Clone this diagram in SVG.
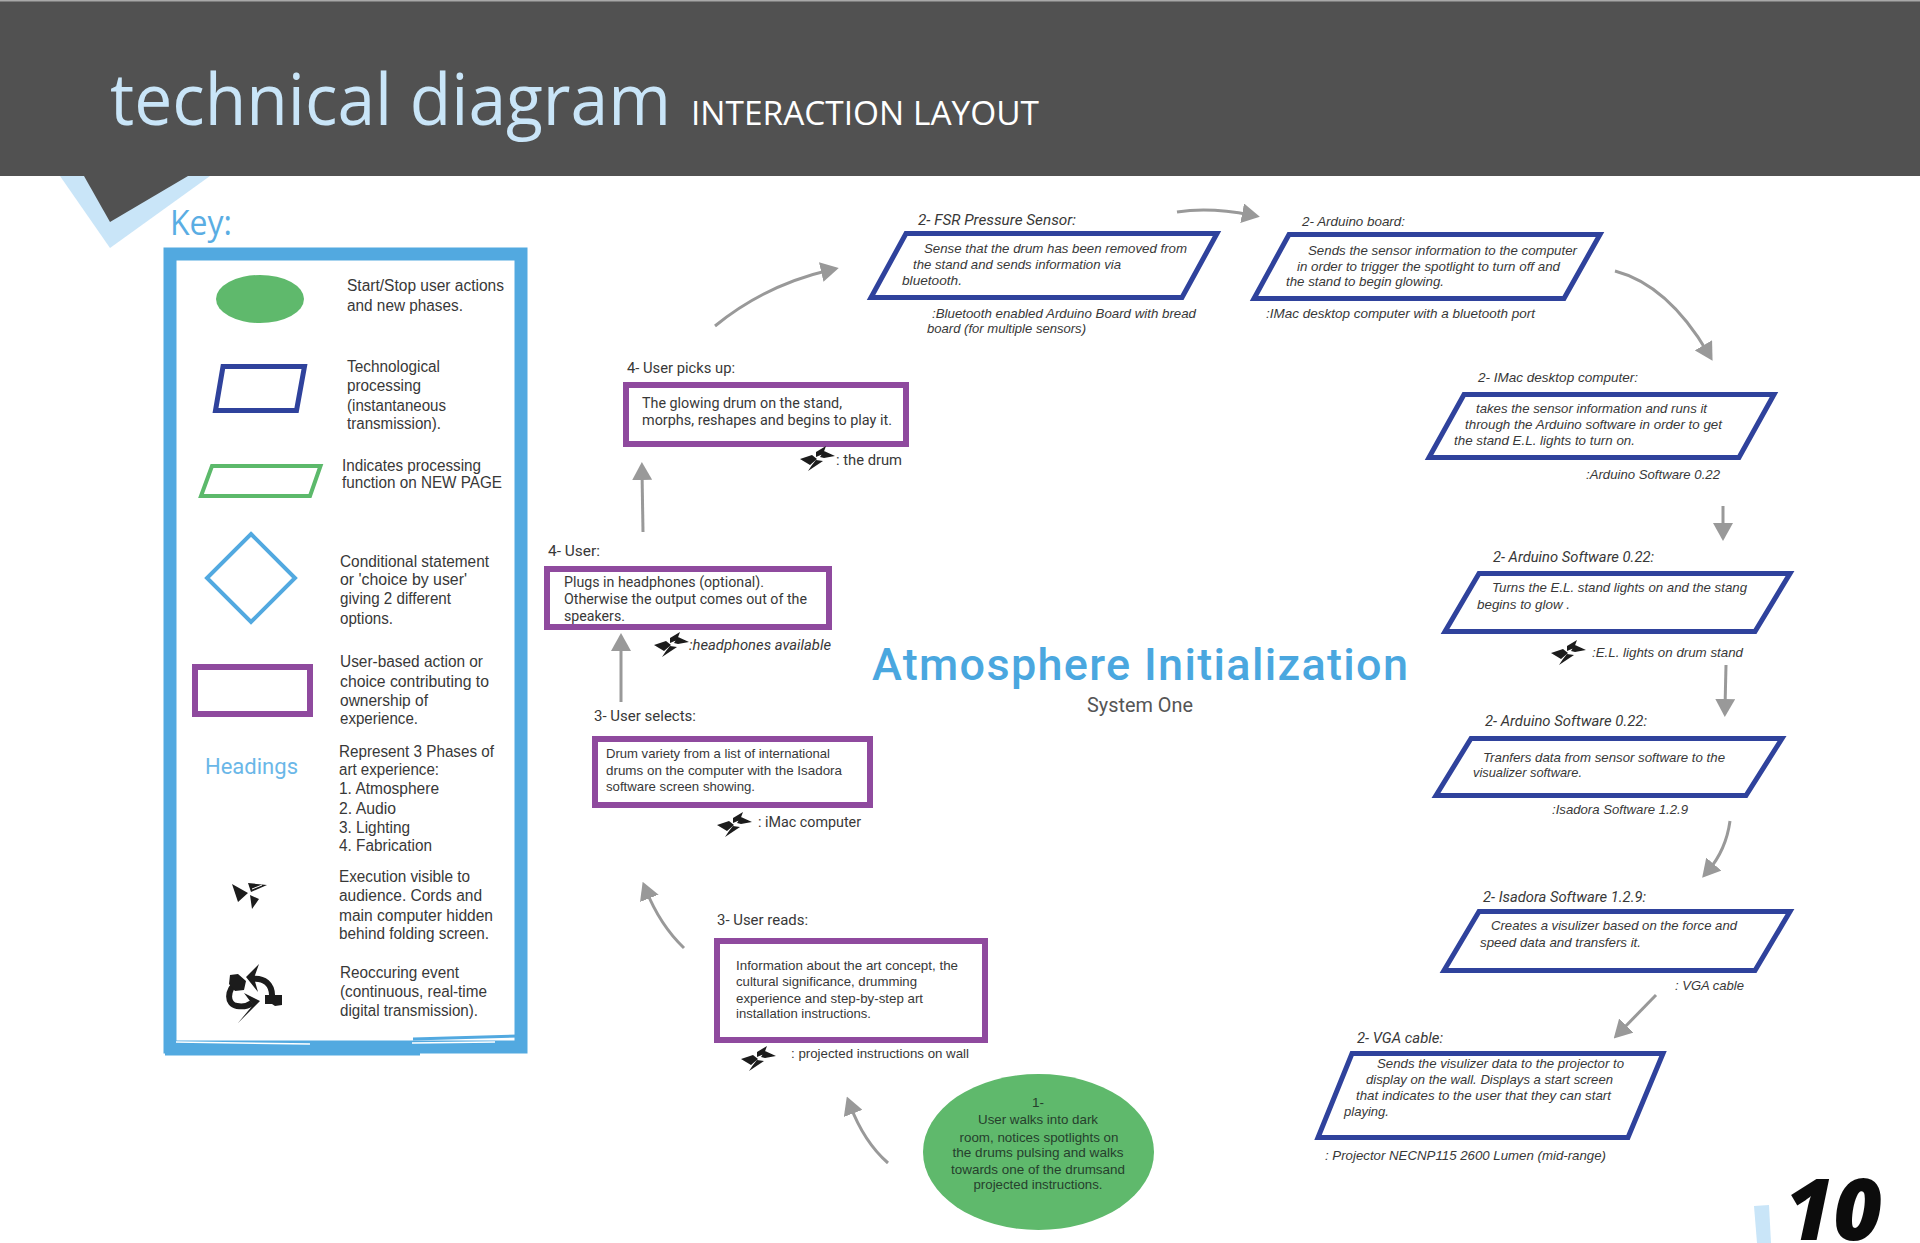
<svg xmlns="http://www.w3.org/2000/svg" xmlns:xlink="http://www.w3.org/1999/xlink" width="1920" height="1243" viewBox="0 0 1920 1243">
<style>
text{font-family:"Liberation Sans",Arial,sans-serif;fill:#383838}
.k{font-size:16px}
.p{font-size:13.5px;font-style:italic}
.a{font-size:13.5px}
.e{font-size:13.5px;text-anchor:middle;fill:#26402c}
.d{font-family:Roboto,"Liberation Sans",sans-serif;font-size:14.5px}
.di{font-family:Roboto,"Liberation Sans",sans-serif;font-size:14.5px;font-style:italic}
.tech{fill:#fff;stroke:#2f429c;stroke-width:5;stroke-linejoin:miter}
.user{fill:#fff;stroke:#8f4a9e;stroke-width:6}
.conn{fill:none;stroke:#999;stroke-width:3;marker-end:url(#head)}
</style>
<defs>
<marker id="head" markerUnits="userSpaceOnUse" viewBox="0 0 18 20" refX="9" refY="10" markerWidth="18" markerHeight="20" orient="auto"><path d="M0 0L18 10L0 20Z" fill="#999"/></marker>
<symbol id="fan" overflow="visible" viewBox="-18 -14 36 28" width="36" height="28">
<path fill="#1c1c1c" d="M-18 1L-6-3L-1 1L-8 7ZM-2-1L-2-6L8-12L5-4ZM2-1L6-7L17-2L6 0ZM-2 2L5 3L-10 13L-6 7Z"/>
</symbol>
</defs>
<rect width="1920" height="1243" fill="#fff"/>
<g id="header">
<polygon points="60,176 110,248 210,176" fill="#c9e5f8"/>
<rect y="0" width="1920" height="176" fill="#515151"/>
<rect y="0" width="1920" height="1.5" fill="#a8a8a8"/>
<polygon points="84,176 110,222 188,176" fill="#515151"/>
<text x="110" y="125" textLength="561" lengthAdjust="spacingAndGlyphs" style="font-family:'Open Sans',sans-serif;font-size:72px;fill:#c9e5f8">technical diagram</text>
<text x="691" y="125" textLength="348" lengthAdjust="spacingAndGlyphs" style="font-family:'Open Sans',sans-serif;font-size:33px;fill:#fff">INTERACTION LAYOUT</text>
</g>
<g id="key">
<text x="170" y="235" textLength="62" lengthAdjust="spacingAndGlyphs" style="font-family:'Open Sans',sans-serif;font-size:34px;fill:#5aade3">Key:</text>
<rect x="170" y="254" width="351" height="793" fill="#fff" stroke="#52a9e0" stroke-width="13"/>
<path d="M413 1039L519 1036M165 1054L420 1054" fill="none" stroke="#52a9e0" stroke-width="3"/>
<path d="M176 1042L310 1044M412 1043L495 1042" fill="none" stroke="#fff" stroke-width="1.5"/>
<g id="key-start"><ellipse cx="260" cy="299" rx="44" ry="24" fill="#5fb96c"/>
<text class="k" x="347" y="291" textLength="157" lengthAdjust="spacingAndGlyphs">Start/Stop user actions</text>
<text class="k" x="347" y="311" textLength="116" lengthAdjust="spacingAndGlyphs">and new phases.</text></g>
<g id="key-tech"><polygon points="223,366.500 304.500,366.500 296.500,410.500 215.500,410.500" fill="#fff" stroke="#2f429c" stroke-width="5"/>
<text class="k" x="347" y="372" textLength="93" lengthAdjust="spacingAndGlyphs">Technological</text>
<text class="k" x="347" y="391" textLength="74" lengthAdjust="spacingAndGlyphs">processing</text>
<text class="k" x="347" y="411" textLength="99" lengthAdjust="spacingAndGlyphs">(instantaneous</text>
<text class="k" x="347" y="429" textLength="94" lengthAdjust="spacingAndGlyphs">transmission).</text></g>
<g id="key-page"><polygon points="212,466 320.500,466 310,496 201,496" fill="#fff" stroke="#5cb96b" stroke-width="4"/>
<text class="k" x="342" y="471" textLength="139" lengthAdjust="spacingAndGlyphs">Indicates processing</text>
<text class="k" x="342" y="488" textLength="160" lengthAdjust="spacingAndGlyphs">function on NEW PAGE</text></g>
<g id="key-choice"><polygon points="251,534 295,578 251,622 207,578" fill="#fff" stroke="#52a9e0" stroke-width="4"/>
<text class="k" x="340" y="567" textLength="149" lengthAdjust="spacingAndGlyphs">Conditional statement</text>
<text class="k" x="340" y="585" textLength="127" lengthAdjust="spacingAndGlyphs">or 'choice by user'</text>
<text class="k" x="340" y="604" textLength="111" lengthAdjust="spacingAndGlyphs">giving 2 different</text>
<text class="k" x="340" y="624" textLength="53" lengthAdjust="spacingAndGlyphs">options.</text></g>
<g id="key-user"><rect class="user" x="195" y="667" width="115" height="47"/>
<text class="k" x="340" y="667" textLength="143" lengthAdjust="spacingAndGlyphs">User-based action or</text>
<text class="k" x="340" y="687" textLength="149" lengthAdjust="spacingAndGlyphs">choice contributing to</text>
<text class="k" x="340" y="706" textLength="88" lengthAdjust="spacingAndGlyphs">ownership of</text>
<text class="k" x="340" y="724" textLength="78" lengthAdjust="spacingAndGlyphs">experience.</text></g>
<g id="key-headings"><text x="205" y="774" textLength="93" lengthAdjust="spacingAndGlyphs" style="font-family:Roboto,sans-serif;font-size:22px;fill:#6ab7e8">Headings</text>
<text class="k" x="339" y="757" textLength="155" lengthAdjust="spacingAndGlyphs">Represent 3 Phases of</text>
<text class="k" x="339" y="775" textLength="100" lengthAdjust="spacingAndGlyphs">art experience:</text>
<text class="k" x="339" y="794" textLength="100" lengthAdjust="spacingAndGlyphs">1. Atmosphere</text>
<text class="k" x="339" y="814" textLength="57" lengthAdjust="spacingAndGlyphs">2. Audio</text>
<text class="k" x="339" y="833" textLength="71" lengthAdjust="spacingAndGlyphs">3. Lighting</text>
<text class="k" x="339" y="851" textLength="93" lengthAdjust="spacingAndGlyphs">4. Fabrication</text></g>
<g id="key-execution"><path fill="#1c1c1c" d="M232 884L248 893L238 902ZM248 883L267 885L251 892ZM250 895L259 899L252 909Z"/>
<path d="M252 889L262 885" stroke="#fff" stroke-width="1" fill="none"/>
<text class="k" x="339" y="882" textLength="131" lengthAdjust="spacingAndGlyphs">Execution visible to</text>
<text class="k" x="339" y="901" textLength="143" lengthAdjust="spacingAndGlyphs">audience. Cords and</text>
<text class="k" x="339" y="921" textLength="154" lengthAdjust="spacingAndGlyphs">main computer hidden</text>
<text class="k" x="339" y="939" textLength="150" lengthAdjust="spacingAndGlyphs">behind folding screen.</text></g>
<g id="key-recurring">
<path d="M272 998C273 984 264 977 251 979M237 982C227 990 226 1004 237 1006C243 1007 248 1006 252 1003" fill="none" stroke="#1c1c1c" stroke-width="6"/>
<path fill="#1c1c1c" d="M259 964L246 977L258 992L254 978ZM265 995L282 995L282 1005L275 1006L272 1004L265 1004ZM238 1023L253 1005L244 993L260 1001ZM230 975L238 974L246 981L244 990L235 991L229 984Z"/>
<text class="k" x="340" y="978" textLength="119" lengthAdjust="spacingAndGlyphs">Reoccuring event</text>
<text class="k" x="340" y="997" textLength="147" lengthAdjust="spacingAndGlyphs">(continuous, real-time</text>
<text class="k" x="340" y="1016" textLength="138" lengthAdjust="spacingAndGlyphs">digital transmission).</text></g>
</g>
<g id="title"><text x="872" y="680" textLength="536" lengthAdjust="spacing" style="font-family:Roboto,sans-serif;font-size:45px;font-weight:500;fill:#4aa7df">Atmosphere Initialization</text>
<text x="1087" y="712" textLength="106" lengthAdjust="spacingAndGlyphs" style="font-family:Roboto,sans-serif;font-size:20px;fill:#555">System One</text></g>
<g id="connectors">
<path class="conn" d="M1177 212Q1210 207 1251 215"/>
<path class="conn" d="M1615 271Q1668 285 1708 353"/>
<path class="conn" d="M1723 506L1723 532"/>
<path class="conn" d="M1726 665L1725 708"/>
<path class="conn" d="M1730 821Q1726 850 1708 871"/>
<path class="conn" d="M1656 995L1620 1032"/>
<path class="conn" d="M888 1163Q864 1142 850 1105"/>
<path class="conn" d="M684 948Q660 925 646 890"/>
<path class="conn" d="M621 702L621 642"/>
<path class="conn" d="M643 532L642 471"/>
<path class="conn" d="M715 326Q765 285 830 270"/>
</g>
<g id="node-fsr"><polygon class="tech" points="906,233.500 1217,233.500 1182,297.500 871,297.500"/>
<text class="di" x="918" y="225" textLength="158" lengthAdjust="spacingAndGlyphs">2- FSR Pressure Sensor:</text>
<text class="p" x="924" y="253" textLength="263" lengthAdjust="spacingAndGlyphs">Sense that the drum has been removed from</text>
<text class="p" x="913" y="269" textLength="208" lengthAdjust="spacingAndGlyphs">the stand and sends information via</text>
<text class="p" x="902" y="285" textLength="60" lengthAdjust="spacingAndGlyphs">bluetooth.</text>
<text class="p" x="932" y="318" textLength="264" lengthAdjust="spacingAndGlyphs">:Bluetooth enabled Arduino Board with bread</text>
<text class="p" x="927" y="333" textLength="159" lengthAdjust="spacingAndGlyphs">board (for multiple sensors)</text></g>
<g id="node-arduino-board"><polygon class="tech" points="1289,234.500 1600,234.500 1564,298.500 1254,298.500"/>
<text class="p" x="1302" y="226" textLength="103" lengthAdjust="spacingAndGlyphs">2- Arduino board:</text>
<text class="p" x="1308" y="255" textLength="269" lengthAdjust="spacingAndGlyphs">Sends the sensor information to the computer</text>
<text class="p" x="1297" y="271" textLength="263" lengthAdjust="spacingAndGlyphs">in order to trigger the spotlight to turn off and</text>
<text class="p" x="1286" y="286" textLength="158" lengthAdjust="spacingAndGlyphs">the stand to begin glowing.</text>
<text class="p" x="1266" y="318" textLength="269" lengthAdjust="spacingAndGlyphs">:IMac desktop computer with a bluetooth port</text></g>
<g id="node-imac"><polygon class="tech" points="1464,394.500 1774,394.500 1739,457.500 1429,457.500"/>
<text class="p" x="1478" y="382" textLength="160" lengthAdjust="spacingAndGlyphs">2- IMac desktop computer:</text>
<text class="p" x="1476" y="413" textLength="231" lengthAdjust="spacingAndGlyphs">takes the sensor information and runs it</text>
<text class="p" x="1465" y="429" textLength="257" lengthAdjust="spacingAndGlyphs">through the Arduino software in order to get</text>
<text class="p" x="1454" y="445" textLength="181" lengthAdjust="spacingAndGlyphs">the stand E.L. lights to turn on.</text>
<text class="p" x="1586" y="479" textLength="134" lengthAdjust="spacingAndGlyphs">:Arduino Software 0.22</text></g>
<g id="node-software-1"><polygon class="tech" points="1479,573.500 1790,573.500 1755,631.500 1445,631.500"/>
<text class="di" x="1493" y="562" textLength="161" lengthAdjust="spacingAndGlyphs">2- Arduino Software 0.22:</text>
<text class="p" x="1492" y="592" textLength="255" lengthAdjust="spacingAndGlyphs">Turns the E.L. stand lights on and the stang</text>
<text class="p" x="1477" y="609" textLength="93" lengthAdjust="spacingAndGlyphs">begins to glow .</text>
<use xlink:href="#fan" href="#fan" x="1551" y="638"/>
<text class="p" x="1592" y="657" textLength="151" lengthAdjust="spacingAndGlyphs">:E.L. lights on drum stand</text></g>
<g id="node-software-2"><polygon class="tech" points="1471,738.500 1782,738.500 1746,795.500 1436,795.500"/>
<text class="di" x="1485" y="726" textLength="162" lengthAdjust="spacingAndGlyphs">2- Arduino Software 0.22:</text>
<text class="p" x="1483" y="762" textLength="242" lengthAdjust="spacingAndGlyphs">Tranfers data from sensor software to the</text>
<text class="p" x="1473" y="777" textLength="109" lengthAdjust="spacingAndGlyphs">visualizer software.</text>
<text class="p" x="1552" y="814" textLength="136" lengthAdjust="spacingAndGlyphs">:Isadora Software 1.2.9</text></g>
<g id="node-isadora"><polygon class="tech" points="1479,911.500 1790,911.500 1755,970.500 1444,970.500"/>
<text class="di" x="1483" y="902" textLength="163" lengthAdjust="spacingAndGlyphs">2- Isadora Software 1.2.9:</text>
<text class="p" x="1491" y="930" textLength="246" lengthAdjust="spacingAndGlyphs">Creates a visulizer based on the force and</text>
<text class="p" x="1480" y="947" textLength="161" lengthAdjust="spacingAndGlyphs">speed data and transfers it.</text>
<text class="p" x="1675" y="990" textLength="69" lengthAdjust="spacingAndGlyphs">: VGA cable</text></g>
<g id="node-vga"><polygon class="tech" points="1352,1053.500 1663,1053.500 1628,1137.500 1318,1137.500"/>
<text class="di" x="1357" y="1043" textLength="86" lengthAdjust="spacingAndGlyphs">2- VGA cable:</text>
<text class="p" x="1377" y="1068" textLength="247" lengthAdjust="spacingAndGlyphs">Sends the visulizer data to the projector to</text>
<text class="p" x="1366" y="1084" textLength="247" lengthAdjust="spacingAndGlyphs">display on the wall. Displays a start screen</text>
<text class="p" x="1356" y="1100" textLength="255" lengthAdjust="spacingAndGlyphs">that indicates to the user that they can start</text>
<text class="p" x="1344" y="1116" textLength="45" lengthAdjust="spacingAndGlyphs">playing.</text>
<text class="p" x="1325" y="1160" textLength="281" lengthAdjust="spacingAndGlyphs">: Projector NECNP115 2600 Lumen (mid-range)</text></g>
<g id="node-start"><ellipse cx="1038.500" cy="1152" rx="115.500" ry="78" fill="#5fb96c"/>
<text class="e" x="1038" y="1107">1-</text>
<text class="e" x="1038" y="1124" textLength="120" lengthAdjust="spacingAndGlyphs">User walks into dark</text>
<text class="e" x="1039" y="1142" textLength="159" lengthAdjust="spacingAndGlyphs">room, notices spotlights on</text>
<text class="e" x="1038" y="1157" textLength="171" lengthAdjust="spacingAndGlyphs">the drums pulsing  and walks</text>
<text class="e" x="1038" y="1174" textLength="174" lengthAdjust="spacingAndGlyphs">towards one of the drumsand</text>
<text class="e" x="1038" y="1189" textLength="129" lengthAdjust="spacingAndGlyphs">projected instructions.</text></g>
<g id="node-reads"><rect class="user" x="717" y="941" width="268" height="99"/>
<text class="d" x="717" y="925" textLength="91" lengthAdjust="spacingAndGlyphs">3- User reads:</text>
<text class="a" x="736" y="970" textLength="222" lengthAdjust="spacingAndGlyphs">Information about the art concept, the</text>
<text class="a" x="736" y="986" textLength="181" lengthAdjust="spacingAndGlyphs">cultural significance, drumming</text>
<text class="a" x="736" y="1003" textLength="187" lengthAdjust="spacingAndGlyphs">experience and step-by-step art</text>
<text class="a" x="736" y="1018" textLength="135" lengthAdjust="spacingAndGlyphs">installation instructions.</text>
<use xlink:href="#fan" href="#fan" x="741" y="1044"/>
<text class="a" x="791" y="1058" textLength="178" lengthAdjust="spacingAndGlyphs">: projected instructions on wall</text></g>
<g id="node-selects"><rect class="user" x="595" y="739" width="275" height="66"/>
<text class="d" x="594" y="721" textLength="102" lengthAdjust="spacingAndGlyphs">3- User selects:</text>
<text class="a" x="606" y="758" textLength="224" lengthAdjust="spacingAndGlyphs">Drum variety from a list of international</text>
<text class="a" x="606" y="775" textLength="236" lengthAdjust="spacingAndGlyphs">drums on the computer with the Isadora</text>
<text class="a" x="606" y="791" textLength="149" lengthAdjust="spacingAndGlyphs">software screen showing.</text>
<use xlink:href="#fan" href="#fan" x="717" y="810"/>
<text class="d" x="758" y="827" textLength="103" lengthAdjust="spacingAndGlyphs">: iMac computer</text></g>
<g id="node-headphones"><rect class="user" x="547" y="569" width="282" height="58"/>
<text class="d" x="548" y="556" textLength="52" lengthAdjust="spacingAndGlyphs">4- User:</text>
<text class="d" x="564" y="587" textLength="200" lengthAdjust="spacingAndGlyphs">Plugs in headphones (optional).</text>
<text class="d" x="564" y="604" textLength="243" lengthAdjust="spacingAndGlyphs">Otherwise the output comes out of the</text>
<text class="d" x="564" y="621" textLength="61" lengthAdjust="spacingAndGlyphs">speakers.</text>
<use xlink:href="#fan" href="#fan" x="654" y="630"/>
<text class="di" x="689" y="650" textLength="142" lengthAdjust="spacingAndGlyphs">:headphones available</text></g>
<g id="node-picks-up"><rect class="user" x="626" y="385" width="280" height="59"/>
<text class="d" x="627" y="373" textLength="108" lengthAdjust="spacingAndGlyphs">4- User picks up:</text>
<text class="d" x="642" y="408" textLength="200" lengthAdjust="spacingAndGlyphs">The glowing drum on the stand,</text>
<text class="d" x="642" y="425" textLength="250" lengthAdjust="spacingAndGlyphs">morphs, reshapes and begins to play it.</text>
<use xlink:href="#fan" href="#fan" x="800" y="444"/>
<text class="d" x="836" y="465" textLength="66" lengthAdjust="spacingAndGlyphs">: the drum</text></g>
<g id="page-number"><polygon points="1754,1206 1769,1205 1771,1243 1757,1243" fill="#c9e5f8"/>
<text x="1785" y="1240" textLength="97" lengthAdjust="spacingAndGlyphs" style="font-family:'Open Sans',sans-serif;font-size:85px;font-weight:800;font-style:italic;fill:#0c0c0c">10</text></g>
</svg>
